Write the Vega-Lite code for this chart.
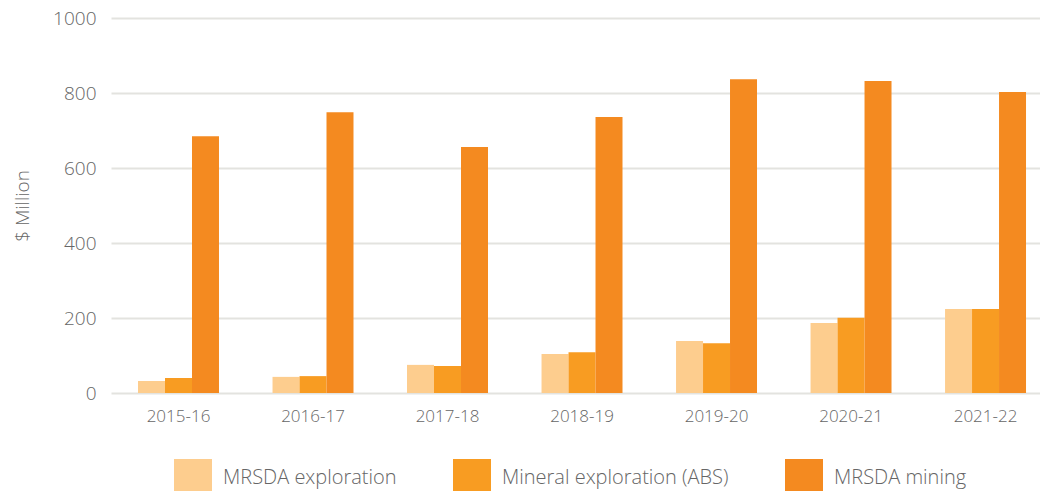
{
  "$schema": "https://vega.github.io/schema/vega-lite/v6.json",
  "autosize": {"type": "none"},
  "width": 929,
  "height": 375,
  "padding": {"left": 111, "top": 18, "right": 0, "bottom": 98},
  "background": "white",
  "config": {
    "font": "Open Sans",
    "view": {"stroke": null},
    "axis": {
      "labelFont": "Open Sans",
      "labelFontWeight": 300,
      "labelColor": "#666666",
      "labelFontSize": 17,
      "titleFont": "Open Sans",
      "titleColor": "#666666",
      "titleFontSize": 19,
      "titleFontWeight": 300,
      "gridColor": "#E3E3DF",
      "gridWidth": 2,
      "ticks": false,
      "domain": false
    }
  },
  "data": {
    "values": [
      {"year": "2015-16", "series": "MRSDA exploration", "value": 32},
      {"year": "2015-16", "series": "Mineral exploration (ABS)", "value": 40},
      {"year": "2015-16", "series": "MRSDA mining", "value": 685},
      {"year": "2016-17", "series": "MRSDA exploration", "value": 43},
      {"year": "2016-17", "series": "Mineral exploration (ABS)", "value": 45},
      {"year": "2016-17", "series": "MRSDA mining", "value": 749},
      {"year": "2017-18", "series": "MRSDA exploration", "value": 75},
      {"year": "2017-18", "series": "Mineral exploration (ABS)", "value": 72},
      {"year": "2017-18", "series": "MRSDA mining", "value": 656},
      {"year": "2018-19", "series": "MRSDA exploration", "value": 104},
      {"year": "2018-19", "series": "Mineral exploration (ABS)", "value": 109},
      {"year": "2018-19", "series": "MRSDA mining", "value": 736},
      {"year": "2019-20", "series": "MRSDA exploration", "value": 139},
      {"year": "2019-20", "series": "Mineral exploration (ABS)", "value": 133},
      {"year": "2019-20", "series": "MRSDA mining", "value": 837},
      {"year": "2020-21", "series": "MRSDA exploration", "value": 187},
      {"year": "2020-21", "series": "Mineral exploration (ABS)", "value": 201},
      {"year": "2020-21", "series": "MRSDA mining", "value": 832},
      {"year": "2021-22", "series": "MRSDA exploration", "value": 224},
      {"year": "2021-22", "series": "Mineral exploration (ABS)", "value": 224},
      {"year": "2021-22", "series": "MRSDA mining", "value": 803}
    ]
  },
  "mark": {"type": "bar"},
  "encoding": {
    "x": {
      "field": "year",
      "type": "nominal",
      "scale": {"paddingInner": 0.398, "paddingOuter": 0.1524, "align": 0.659},
      "axis": {"title": null, "labelAngle": 0, "labelPadding": 15, "grid": false}
    },
    "xOffset": {
      "field": "series",
      "type": "nominal",
      "sort": ["MRSDA exploration", "Mineral exploration (ABS)", "MRSDA mining"],
      "scale": {"paddingInner": 0, "paddingOuter": 0}
    },
    "y": {
      "field": "value",
      "type": "quantitative",
      "scale": {"domain": [0, 1000], "nice": false},
      "axis": {
        "title": "$ Million",
        "values": [0, 200, 400, 600, 800, 1000],
        "format": "d",
        "labelFontSize": 19,
        "labelPadding": 15,
        "titleX": -89,
        "titleY": 187.5,
        "titleAngle": -90,
        "titleAlign": "center",
        "titleBaseline": "middle"
      }
    },
    "color": {
      "field": "series",
      "type": "nominal",
      "sort": ["MRSDA exploration", "Mineral exploration (ABS)", "MRSDA mining"],
      "scale": {
        "domain": ["MRSDA exploration", "Mineral exploration (ABS)", "MRSDA mining"],
        "range": ["#FDCD8E", "#F89C22", "#F48A20"]
      },
      "legend": {
        "title": null,
        "orient": "none",
        "direction": "horizontal",
        "legendX": 63,
        "legendY": 441,
        "symbolType": "square",
        "symbolSize": 1444,
        "symbolStrokeWidth": 0,
        "symbolOpacity": 1,
        "labelFont": "Open Sans",
        "labelFontWeight": 300,
        "labelFontSize": 20,
        "labelColor": "#666666",
        "labelOffset": 11,
        "labelLimit": 400,
        "columnPadding": 56,
        "padding": 0
      }
    }
  }
}
